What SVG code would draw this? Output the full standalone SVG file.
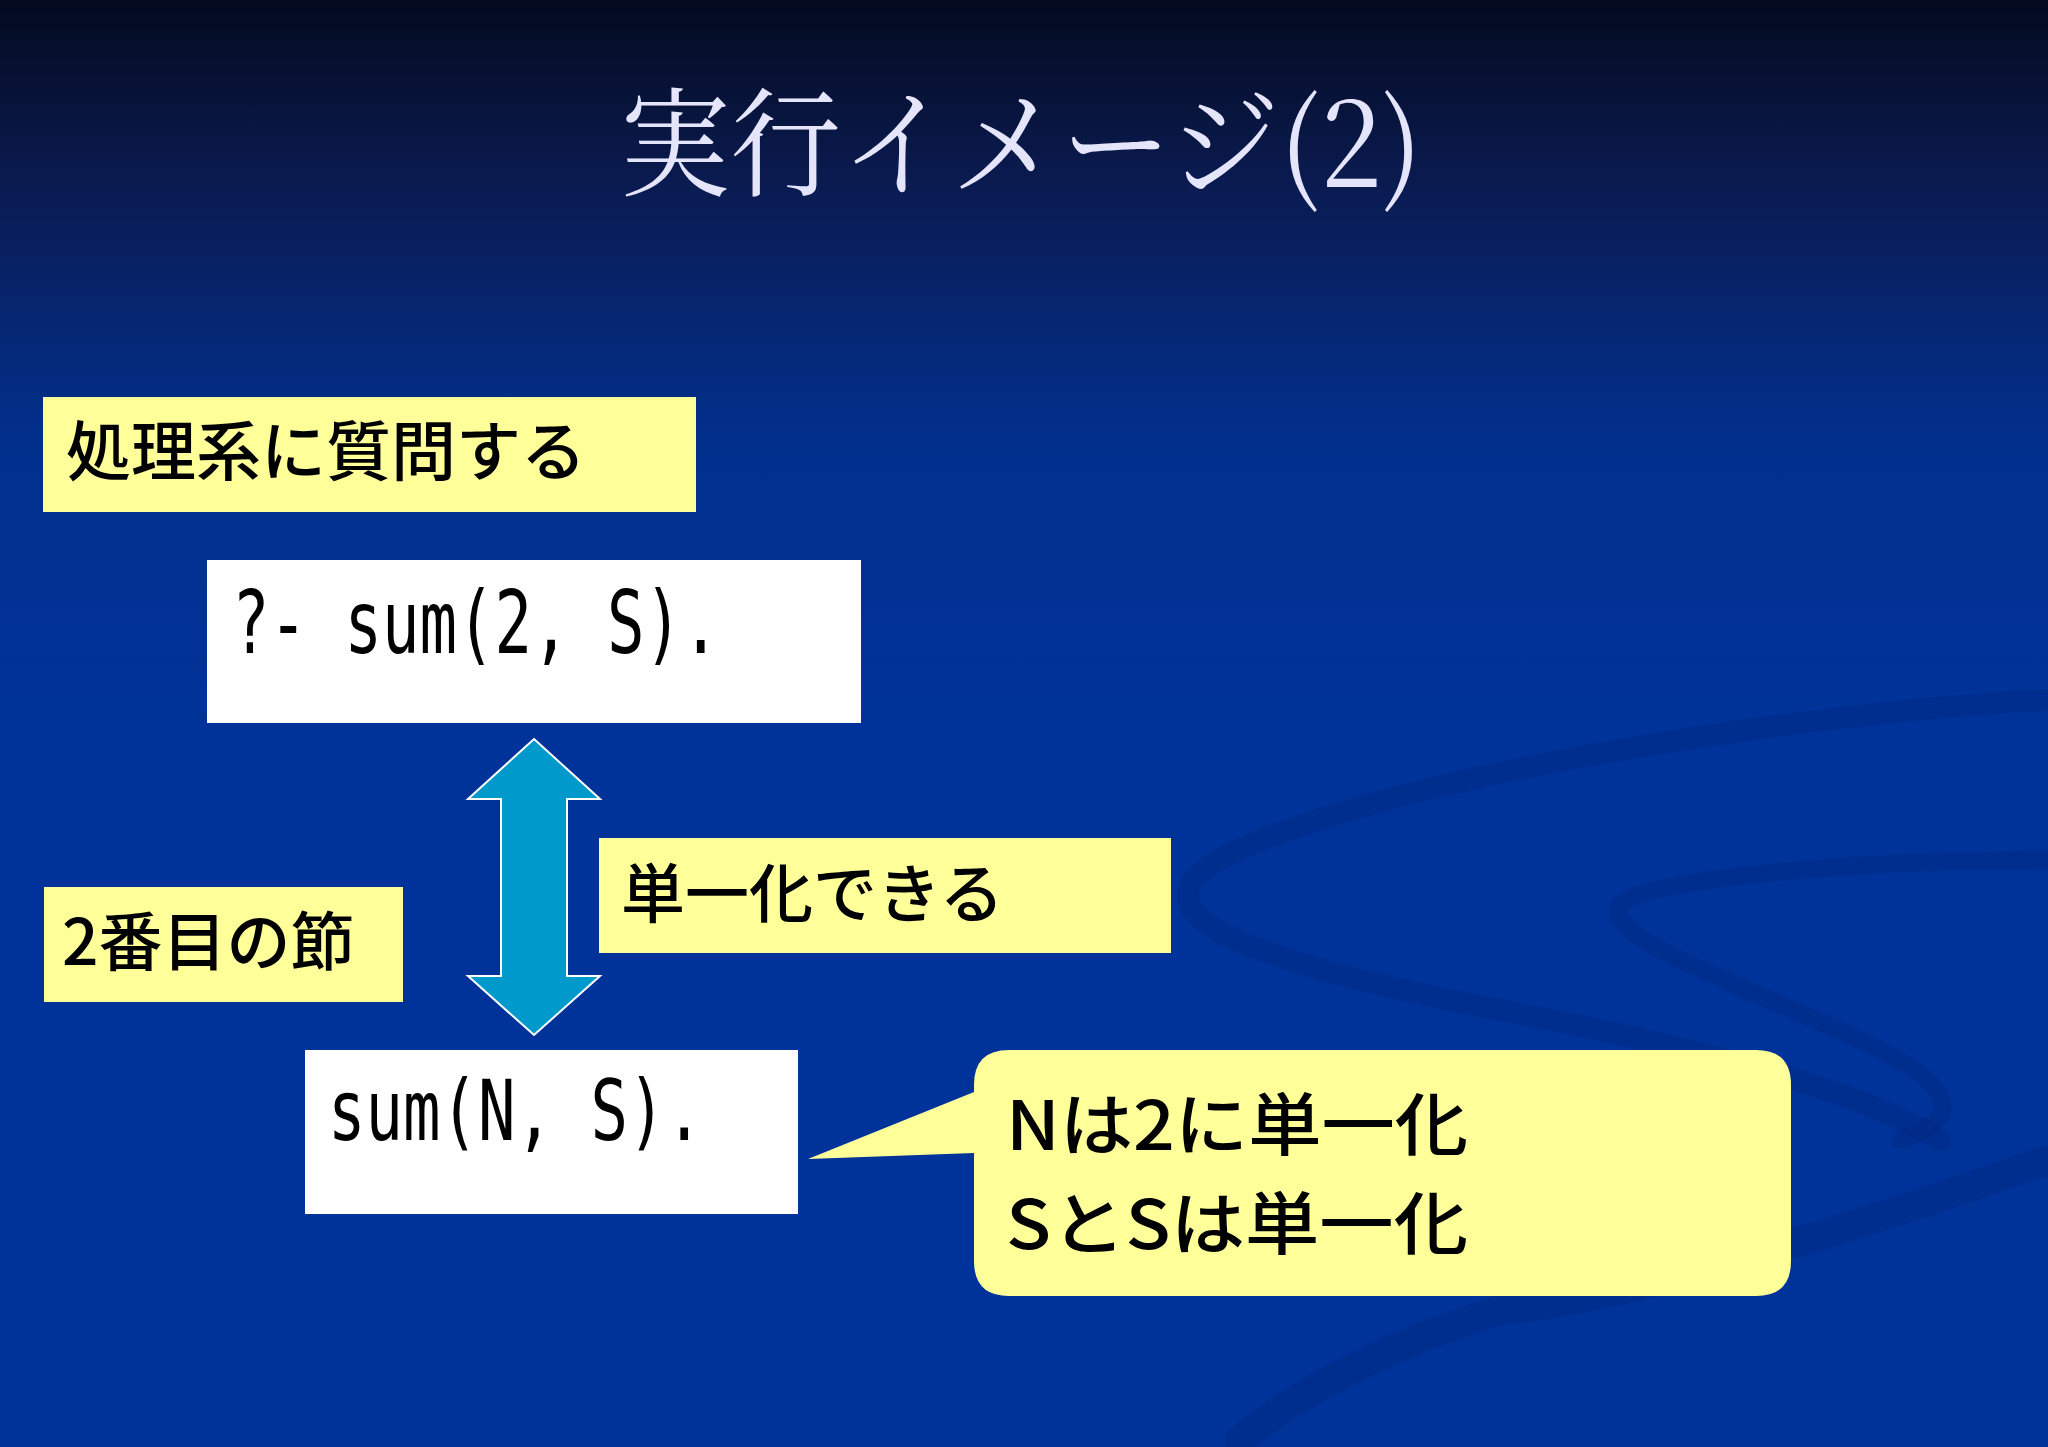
<svg xmlns="http://www.w3.org/2000/svg" width="2048" height="1447" viewBox="0 0 2048 1447">
  <defs>
    <linearGradient id="bg" x1="0" y1="0" x2="0" y2="1">
      <stop offset="0" stop-color="#030a1e"/>
      <stop offset="0.12" stop-color="#0a1a4e"/>
      <stop offset="0.3" stop-color="#022f8c"/>
      <stop offset="0.5" stop-color="#003399"/>
      <stop offset="1" stop-color="#003399"/>
    </linearGradient>
    <style>
      .yel { fill: #ffff99; }
      .wht { fill: #ffffff; }
      .jp { font-family: "Noto Sans CJK JP", "Noto Sans", sans-serif; font-weight: 500; fill: #000000; }
      .mono { font-family: "DejaVu Sans Mono", "Liberation Mono", monospace; font-size: 62.3px; fill: #000000; }
      .swirl { fill: none; stroke: #00267e; stroke-linecap: round; opacity: 0.35; }
    </style>
  </defs>

  <rect x="0" y="0" width="2048" height="1447" fill="url(#bg)"/>

  <g id="background-swirls">
    <path class="swirl" stroke-width="22" d="M 2048 700 C 1800 712, 1360 780, 1215 862 C 1130 915, 1250 962, 1500 1010 C 1700 1048, 1860 1090, 1940 1140"/>
    <path class="swirl" stroke-width="18" d="M 2048 860 C 1850 860, 1640 880, 1620 905 C 1600 940, 1760 990, 1880 1050 C 1960 1090, 1960 1120, 1900 1140"/>
    <path class="swirl" stroke-width="30" d="M 2048 1160 C 1850 1230, 1620 1300, 1500 1310 C 1400 1340, 1300 1390, 1240 1440"/>
  </g>

  <g id="title">
    <text x="620" y="187" font-family="Noto Serif CJK JP, Noto Sans CJK JP, serif" font-size="118" fill="#e4e4fa" textLength="802" lengthAdjust="spacingAndGlyphs">実行イメージ(2)</text>
  </g>

  <g id="connectors">
    <path d="M 534 739 L 600 799 L 567 799 L 567 976 L 600 976 L 534 1035 L 468 976 L 501 976 L 501 799 L 468 799 Z" fill="#0099cc" stroke="#ffffff" stroke-width="2" stroke-linejoin="miter"/>
  </g>

  <g id="label-query">
    <rect class="yel" x="43" y="397" width="653" height="115"/>
    <text class="jp" x="66" y="475" font-size="65">処理系に質問する</text>
  </g>

  <g id="query-box">
    <rect class="wht" x="207" y="560" width="654" height="163"/>
    <text class="mono" transform="translate(232,653) scale(1,1.39)" x="0" y="0">?- sum(2, S).</text>
  </g>

  <g id="label-unify">
    <rect class="yel" x="599" y="838" width="572" height="115"/>
    <text class="jp" x="621" y="917" font-size="64">単一化できる</text>
  </g>

  <g id="label-clause">
    <rect class="yel" x="44" y="887" width="359" height="115"/>
    <text class="jp" x="62" y="965" font-size="64">2番目の節</text>
  </g>

  <g id="clause-box">
    <rect class="wht" x="305" y="1050" width="493" height="164"/>
    <text class="mono" transform="translate(328,1140) scale(1,1.33)" x="0" y="0">sum(N, S).</text>
  </g>

  <g id="callout">
    <path class="yel" d="M 1009 1050 H 1756 Q 1791 1050 1791 1085 V 1261 Q 1791 1296 1756 1296 H 1009 Q 974 1296 974 1261 V 1153 L 808 1159 L 974 1092 V 1085 Q 974 1050 1009 1050 Z"/>
    <text class="jp" font-size="68"><tspan x="1006" y="1150" textLength="462" lengthAdjust="spacingAndGlyphs">Nは2に単一化</tspan><tspan x="1006" y="1249" textLength="462" lengthAdjust="spacingAndGlyphs">SとSは単一化</tspan></text>
  </g>
</svg>
